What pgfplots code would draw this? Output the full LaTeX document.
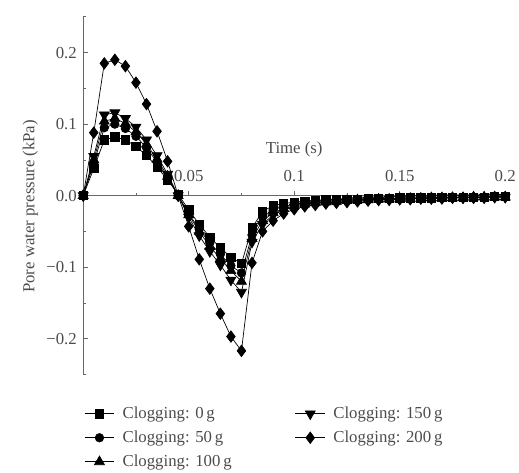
\documentclass[border=0pt]{standalone}
\usepackage{fontspec}
\setmainfont{Liberation Serif}
\usepackage{pgfplots}
\usepackage{pgfplotstable}
\pgfplotsset{compat=1.18}

% Pore water pressure under different clogging masses
\pgfplotstableread{
t      c0      c50     c100    c150    c200
0.000  0.000   0.000   0.000   0.000   0.000
0.005  0.038   0.045   0.050   0.055   0.088
0.010  0.078   0.095   0.104   0.113   0.185
0.015  0.082   0.100   0.108   0.116   0.190
0.020  0.078   0.094   0.101   0.108   0.181
0.025  0.069   0.083   0.089   0.096   0.158
0.030  0.056   0.067   0.072   0.078   0.128
0.035  0.040   0.047   0.051   0.056   0.090
0.040  0.022   0.025   0.027   0.030   0.048
0.045  0.002   0.000   0.000   0.000   0.000
0.050 -0.020  -0.025  -0.027  -0.030  -0.043
0.055 -0.040  -0.047  -0.050  -0.056  -0.089
0.060 -0.058  -0.066  -0.071  -0.078  -0.130
0.065 -0.073  -0.082  -0.088  -0.097  -0.165
0.070 -0.086  -0.098  -0.105  -0.118  -0.197
0.075 -0.095  -0.108  -0.120  -0.135  -0.217
0.080 -0.045  -0.055  -0.060  -0.065  -0.094
0.085 -0.022  -0.030  -0.035  -0.040  -0.050
0.090 -0.014  -0.020  -0.024  -0.027  -0.035
0.095 -0.011  -0.015  -0.018  -0.020  -0.025
0.100 -0.009  -0.012  -0.014  -0.016  -0.019
0.105 -0.008  -0.010  -0.012  -0.013  -0.015
0.110 -0.007  -0.009  -0.010  -0.011  -0.013
0.115 -0.006  -0.008  -0.009  -0.010  -0.011
0.120 -0.006  -0.007  -0.008  -0.009  -0.010
0.125 -0.005  -0.006  -0.007  -0.008  -0.009
0.130 -0.005  -0.006  -0.006  -0.007  -0.008
0.135 -0.004  -0.005  -0.006  -0.006  -0.007
0.140 -0.004  -0.005  -0.005  -0.006  -0.006
0.145 -0.004  -0.004  -0.005  -0.005  -0.006
0.150 -0.003  -0.004  -0.004  -0.005  -0.005
0.155 -0.003  -0.004  -0.004  -0.004  -0.005
0.160 -0.003  -0.003  -0.004  -0.004  -0.004
0.165 -0.003  -0.003  -0.003  -0.004  -0.004
0.170 -0.002  -0.003  -0.003  -0.003  -0.004
0.175 -0.002  -0.003  -0.003  -0.003  -0.003
0.180 -0.002  -0.002  -0.003  -0.003  -0.003
0.185 -0.002  -0.002  -0.002  -0.003  -0.003
0.190 -0.002  -0.002  -0.002  -0.002  -0.003
0.195 -0.001  -0.002  -0.002  -0.002  -0.002
0.200 -0.001  -0.001  -0.002  -0.002  -0.002
}\pwp

\definecolor{txt}{gray}{0.30}
\definecolor{axl}{gray}{0.40}

\begin{document}
\begin{tikzpicture}[font=\fontsize{17}{20}\selectfont]
\begin{axis}[
  name=ax,
  scale only axis,
  width=426bp, height=361bp,
  xmin=0, xmax=0.2,
  ymin=-0.25, ymax=0.25,
  axis y line=left,
  axis x line=middle,
  axis line style={axl, line width=0.8pt, -},
  tick style={axl, line width=0.7pt},
  tick align=inside,
  major tick length=5bp,
  minor tick length=3bp,
  xtick={0.05,0.1,0.15,0.2},
  xticklabels={0.05,0.1,0.15,0.2},
  minor xtick={0.025,0.075,0.125,0.175},
  ytick={-0.2,-0.1,0,0.1,0.2},
  yticklabels={−0.2,−0.1,0.0,0.1,0.2},
  minor ytick={-0.25,-0.15,-0.05,0.05,0.15,0.25},
  ticklabel style={txt},
  xticklabel style={anchor=south, yshift=11bp},
  yticklabel style={xshift=-3bp},
  xlabel={Time (s)},
  xlabel style={txt, at={(axis description cs:0.5,0.63)}, anchor=center},
  ylabel={Pore water pressure (kPa)},
  ylabel style={txt, at={(axis description cs:-0.125,0.47)}, anchor=center},
  every axis plot/.append style={black, line width=0.7pt, mark options={solid, fill=black}},
  legend columns=2,
  legend cell align=left,
  legend style={draw=none, fill=none, text=txt,
    at={(axis description cs:-0.005,-0.080)}, anchor=north west,
    row sep=7bp,
    /tikz/every odd column/.append style={column sep=6bp},
    /tikz/every even column/.append style={column sep=62bp}},
  legend image code/.code={%
    \draw[mark repeat=2, mark phase=2] plot coordinates {(0bp,0bp) (15bp,0bp) (30bp,0bp)};},
]
\addplot[mark=square*, mark size=4.2bp] table[x=t, y=c0] {\pwp};
\addlegendentry{Clogging: 0\,g}
\addplot[mark=triangle*, mark size=5.8bp, mark options={rotate=180}] table[x=t, y=c150] {\pwp};
\addlegendentry{Clogging: 150\,g}
\addplot[mark=*, mark size=4.3bp] table[x=t, y=c50] {\pwp};
\addlegendentry{Clogging: 50\,g}
\addplot[mark=diamond*, mark size=5.8bp] table[x=t, y=c200] {\pwp};
\addlegendentry{Clogging: 200\,g}
\addplot[mark=triangle*, mark size=5.8bp] table[x=t, y=c100] {\pwp};
\addlegendentry{Clogging: 100\,g}
\end{axis}
\path (ax.south west) ++(-84bp,-93bp) rectangle ++(519bp,471bp);
\end{tikzpicture}
\end{document}
